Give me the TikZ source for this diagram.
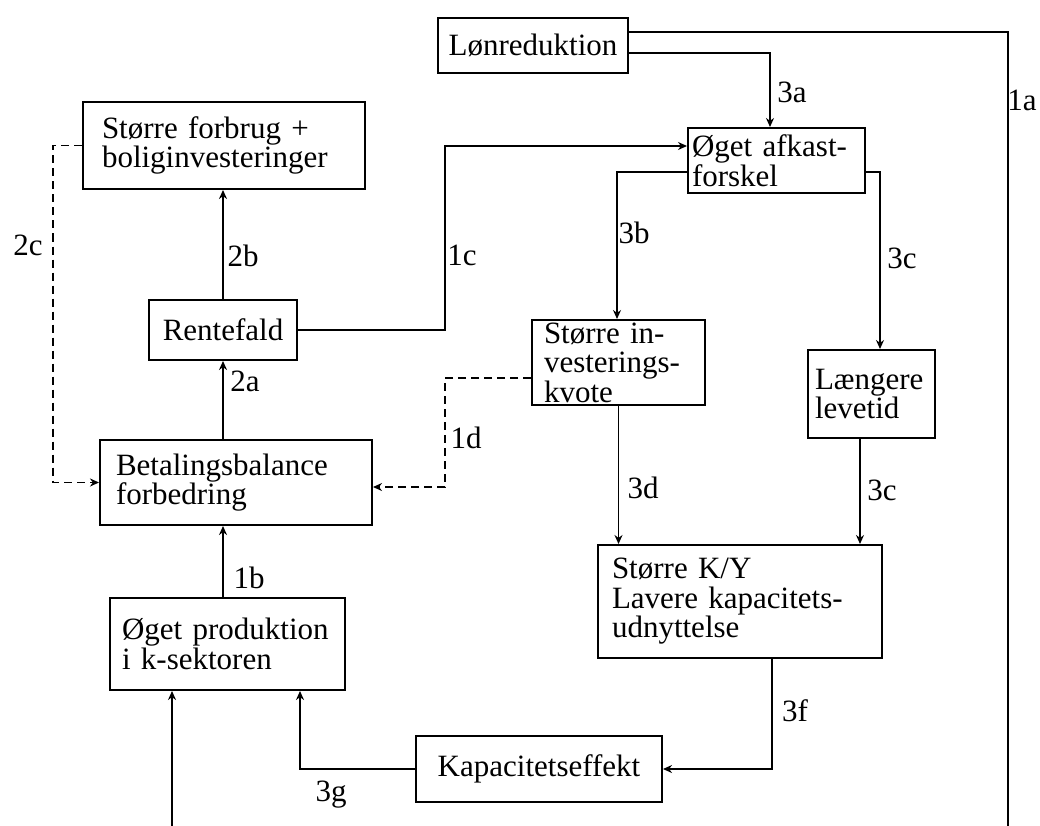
\documentclass[tikz,border=0pt]{standalone}
\usepackage{fontspec}
\setmainfont{Liberation Serif}
\usetikzlibrary{arrows.meta}
\begin{document}
\begin{tikzpicture}[x=1pt,y=-1pt,
  box/.style={draw,line width=2pt,inner ysep=2pt,font=\fontsize{31}{29.5}\selectfont},
  conn/.style={line width=1.7pt},
  arr/.style={conn,-{Stealth[length=9pt,width=8pt]}},
  dsh/.style={arr,line width=1.9pt,dash pattern=on 8pt off 5pt},
  lbl/.style={font=\fontsize{31}{29}\selectfont,inner sep=0pt}]
\useasboundingbox (0,0) rectangle (1040,826);
% boxes
\node[box,minimum width=190pt,minimum height=55pt] (lon) at (533,45.5) {Lønreduktion};
\node[box,text width=169pt,inner xsep=4pt,minimum height=65pt,align=left] (oget) at (776.5,160.5) {Øget afkast-\\forskel};
\node[box,text width=244pt,inner xsep=19pt,minimum height=87pt,align=left] (forb) at (224,145.5) {Større forbrug +\\boliginvesteringer};
\node[box,minimum width=148pt,minimum height=60pt] (rent) at (223,330) {Rentefald};
\node[box,text width=240pt,inner xsep=16pt,minimum height=85pt,align=left] (bet) at (236,482.5) {Betalingsbalance\\forbedring};
\node[box,text width=149pt,inner xsep=12pt,minimum height=85pt,align=left] (sinv) at (618.5,362.5) {Større in-\\vesterings-\\kvote};
\node[box,text width=113pt,inner xsep=7pt,minimum height=88pt,align=left] (lev) at (871.5,394) {Længere\\levetid};
\node[box,text width=256pt,inner xsep=14pt,minimum height=113pt,align=left] (ky) at (740,601.5) {Større K/Y\\Lavere kapacitets-\\udnyttelse};
\node[box,text width=211pt,inner xsep=12pt,minimum height=92pt,align=left] (prod) at (227.5,644) {Øget produktion\\i k-sektoren};
\node[box,minimum width=246pt,minimum height=66pt] (kap) at (539,769) {Kapacitetseffekt};
% free ends
\coordinate (out1) at (1008,826);
\coordinate (in1) at (172,826);
% connectors
\draw[conn] (lon.east |- 0,32) -- (1008,32) -- (out1);
\draw[arr] (in1) -- (in1 |- prod.south);
\draw[arr] (lon.east |- 0,53) -| (770,0 |- oget.north);
\draw[arr] (rent.east) -| (445,146) -- (oget.west |- 0,146);
\draw[arr] (oget.west |- 0,172) -| (617,0 |- sinv.north);
\draw[arr] (oget.east |- 0,172) -| (880,0 |- lev.north);
\draw[arr] (rent.north) -- (rent.north |- forb.south);
\draw[arr] (rent.south |- bet.north) -- (rent.south);
\draw[arr] (rent.south |- prod.north) -- (rent.south |- bet.south);
\draw[dsh] (forb.west) -| (53,482.5) -- (bet.west);
\draw[dsh] (sinv.west |- 0,378) -| (445,487) -- (bet.east |- 0,487);
\draw[arr] (sinv.south) -- (sinv.south |- ky.north);
\draw[arr] (860,0 |- lev.south) -- (860,0 |- ky.north);
\draw[arr] (772,0 |- ky.south) |- (kap.east);
\draw[arr] (kap.west) -| (300,0 |- prod.south);
% labels
\node[lbl] (l1a) at (1022,100) {1a};
\node[lbl] (l3a) at (792,92) {3a};
\node[lbl] (l1c) at (462,255) {1c};
\node[lbl] (l3b) at (634,233) {3b};
\node[lbl] (l3c) at (902,258) {3c};
\node[lbl] (l2b) at (243,256) {2b};
\node[lbl] (l2c) at (28,245) {2c};
\node[lbl] (l2a) at (245,381) {2a};
\node[lbl] (l1d) at (466,438) {1d};
\node[lbl] (l3d) at (643,488) {3d};
\node[lbl] (l3c2) at (882,490) {3c};
\node[lbl] (l1b) at (249,578) {1b};
\node[lbl] (l3f) at (795,711) {3f};
\node[lbl] (l3g) at (331,795) {3g};
\end{tikzpicture}
\end{document}
